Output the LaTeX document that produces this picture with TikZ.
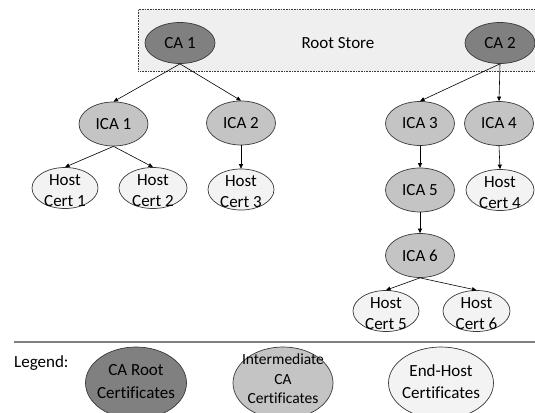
\documentclass[tikz,border=0pt]{standalone}
\usepackage{fontspec}
\setmainfont{Carlito}[Ligatures=CommonOff]
\usetikzlibrary{shapes.geometric,arrows.meta}
\definecolor{rootfill}{HTML}{808080}
\definecolor{icafill}{HTML}{C4C4C4}
\definecolor{hostfill}{HTML}{F3F3F3}
\definecolor{storefill}{HTML}{EFEFEF}
\definecolor{edgegray}{HTML}{3A3A3A}
\definecolor{sepgray}{HTML}{808080}
\begin{document}
\begin{tikzpicture}[x=1pt,y=-1pt,
  cert/.style={ellipse, draw=edgegray, line width=0.7pt, inner sep=0pt,
    align=center, font=\fontsize{17}{21}\selectfont},
  rootca/.style={cert, fill=rootfill, minimum width=70pt, minimum height=41pt},
  ica/.style={cert, fill=icafill, minimum width=69pt, minimum height=44pt},
  host/.style={cert, fill=hostfill, minimum width=66pt, minimum height=41pt},
  lbl/.style={align=center, inner sep=0pt, font=\fontsize{17}{21}\selectfont},
  hostlbl/.style={lbl, yshift=-2.5pt},
  leglbl/.style={align=center, inner sep=0pt, yshift=1.5pt, font=\fontsize{17}{22.5}\selectfont},
  smalllbl/.style={align=center, inner sep=0pt, font=\fontsize{15.5}{19.5}\selectfont},
  link/.style={-{Triangle[length=4.5pt,width=4pt]}, line width=0.6pt, black}]
\useasboundingbox (0,0) rectangle (535,412);
\clip (0,0) rectangle (535,412);

% root store
\node[draw=edgegray, densely dotted, line width=0.6pt, fill=storefill,
  minimum width=407pt, minimum height=62pt, inner sep=0pt, anchor=north west]
  (store) at (138,9) {};
\node[lbl] (storetxt) at (338,43) {Root Store};

% roots
\node[rootca] (ca1) at (180,43) {CA 1};
\node[rootca] (ca2) at (500,43) {CA 2};

% intermediates
\node[ica] (ica1) at (113.5,124) {ICA 1};
\node[ica] (ica2) at (241,123) {ICA 2};
\node[ica] (ica3) at (420,123.5) {ICA 3};
\node[ica] (ica4) at (499,123.5) {ICA 4};
\node[ica] (ica5) at (420,190) {ICA 5};
\node[ica] (ica6) at (420,255.5) {ICA 6};

% hosts
\node[host, label={[hostlbl]center:{Host\\Cert 1}}] (hc1) at (65,188) {};
\node[host, minimum width=68pt, label={[hostlbl]center:{Host\\Cert 2}}] (hc2) at (153,188) {};
\node[host, label={[hostlbl]center:{Host\\Cert 3}}] (hc3) at (241,189.5) {};
\node[host, minimum width=68pt, label={[hostlbl]center:{Host\\Cert 4}}] (hc4) at (500,190) {};
\node[host, label={[hostlbl]center:{Host\\Cert 5}}] (hc5) at (386,311) {};
\node[host, minimum width=67pt, label={[hostlbl]center:{Host\\Cert 6}}] (hc6) at (476.5,311) {};

% connectors
\draw[link] (ca1.south) -- (ica1.north);
\draw[link] (ca1.south) -- (ica2.north);
\draw[link] (ca2.south) -- (ica3.north);
\draw[link] (ca2.south) -- (ica4.north);
\draw[link] (ica1.south) -- (hc1.north);
\draw[link] (ica1.south) -- (hc2.north);
\draw[link] (ica2.south) -- (hc3.north);
\draw[link] (ica3.south) -- (ica5.north);
\draw[link] (ica4.south) -- (hc4.north);
\draw[link] (ica5.south) -- (ica6.north);
\draw[link] (ica6.south) -- (hc5.north);
\draw[link] (ica6.south) -- (hc6.north);

% separator
\draw[sepgray, line width=1.4pt] (14,342) -- (535,342);

% legend
\node[lbl, anchor=west] (legend) at (14,363) {Legend:};
\node[cert, fill=rootfill, minimum width=101pt, minimum height=72pt,
  label={[leglbl]center:{CA Root\\Certificates}}] (lroot) at (136,383) {};
\node[cert, fill=icafill, minimum width=100pt, minimum height=72pt,
  label={[smalllbl, yshift=4pt]center:{Intermediate\\CA\\Certificates}}] (lint) at (283,383) {};
\node[cert, fill=hostfill, minimum width=105pt, minimum height=72pt,
  label={[leglbl]center:{End-Host\\Certificates}}] (lhost) at (441,383) {};
\end{tikzpicture}
\end{document}
